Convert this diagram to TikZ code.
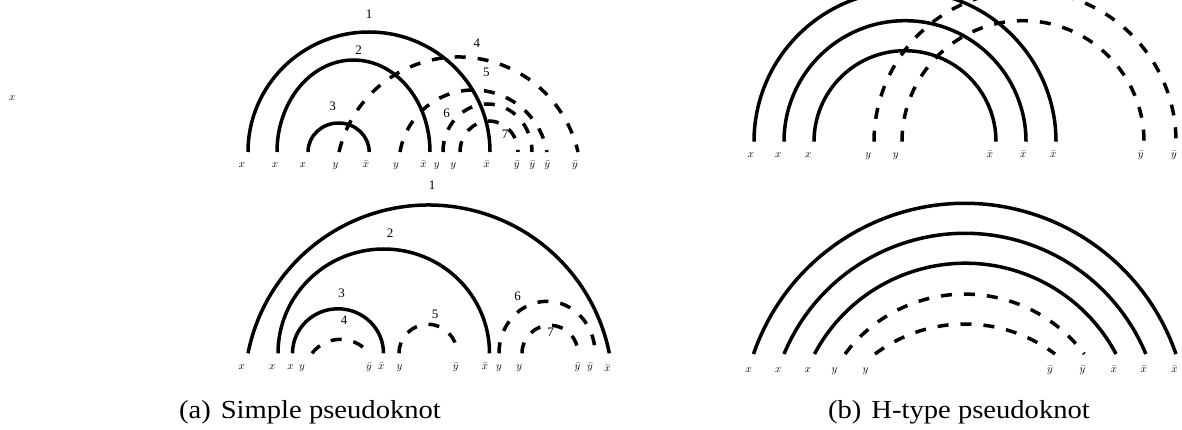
\documentclass[tikz,border=0pt]{standalone}
\usepackage{fontspec}
\newfontfamily\numfont{Liberation Serif}
\newfontfamily\capfont[FakeStretch=1.1]{Liberation Serif}
\tikzset{
  solidarc/.style={line width=3.5pt},
  dasharc/.style={line width=3.5pt, dash pattern=on 11pt off 12pt},
  lab/.style={anchor=base, inner sep=0pt, font=\fontsize{11}{13}\selectfont},
  num/.style={inner sep=0pt, font=\numfont\fontsize{13}{15}\selectfont},
  capnode/.style={anchor=base, inner sep=0pt, font=\capfont\fontsize{26}{30}\selectfont},
}
\begin{document}
\begin{tikzpicture}[x=1pt,y=1pt]
\useasboundingbox (0,0) rectangle (1182,-430);
\clip (0,0) rectangle (1182,-430);

% lone label
\node[lab] (lonex) at (12.3,-100.6) {$x$};

% ================= (a) top panel =================
\coordinate (ta1) at (248,-152);
\coordinate (ta2) at (277,-152);
\coordinate (ta3) at (308,-152);
\coordinate (ta4) at (339,-152);
\coordinate (ta5) at (400,-152);
\coordinate (ta6) at (443,-152);
\coordinate (ta7) at (460,-152);
\draw[solidarc] (ta1) arc[start angle=180,end angle=0,x radius=121pt,y radius=120pt];
\draw[solidarc] (ta2) arc[start angle=180,end angle=0,x radius=76.5pt,y radius=92pt];
\draw[solidarc] (ta3) arc[start angle=180,end angle=0,x radius=30.6pt,y radius=29pt];
\draw[dasharc] (ta4) arc[start angle=166.97,end angle=13.03,radius=122.66pt];
\draw[dasharc] (ta5) arc[start angle=170.3,end angle=9.7,radius=74.57pt];
\draw[dasharc] (ta6) arc[start angle=180,end angle=0,x radius=44.5pt,y radius=48pt];
\draw[dasharc] (ta7) arc[start angle=180,end angle=0,x radius=29pt,y radius=31pt];

\node[lab] (tl1) at (241.7,-167.5) {$x$};
\node[lab] (tl2) at (275,-167.5) {$x$};
\node[lab] (tl3) at (302.7,-167.5) {$x$};
\node[lab] (tl4) at (335.5,-167.5) {$y$};
\node[lab] (tl5) at (366,-167.5) {$\bar{x}$};
\node[lab] (tl6) at (396,-167.5) {$y$};
\node[lab] (tl7) at (423.4,-167.5) {$\bar{x}$};
\node[lab] (tl8) at (436.8,-167.5) {$y$};
\node[lab] (tl9) at (453.3,-167.5) {$y$};
\node[lab] (tl10) at (486.7,-167.5) {$\bar{x}$};
\node[lab] (tl11) at (516.7,-167.5) {$\bar{y}$};
\node[lab] (tl12) at (532.3,-167.5) {$\bar{y}$};
\node[lab] (tl13) at (547.3,-167.5) {$\bar{y}$};
\node[lab] (tl14) at (575,-167.5) {$\bar{y}$};

\node[num] (tn1) at (369,-14) {1};
\node[num] (tn2) at (358.7,-50) {2};
\node[num] (tn3) at (332.7,-106.7) {3};
\node[num] (tn4) at (476.9,-43.3) {4};
\node[num] (tn5) at (486.4,-72.7) {5};
\node[num] (tn6) at (446.7,-113.3) {6};
\node[num] (tn7) at (505,-134) {7};

% ================= (a) bottom panel =================
\coordinate (ba1) at (248,-353.3);
\coordinate (ba2) at (278,-353.3);
\coordinate (ba3) at (292.5,-353.3);
\coordinate (ba4) at (312,-353.3);
\coordinate (ba5) at (399,-353.3);
\coordinate (ba6) at (499,-353.3);
\coordinate (ba7) at (522,-353.3);
\draw[solidarc] (ba1) arc[start angle=168.76,end angle=11.24,radius=184.2pt];
\draw[solidarc] (ba2) arc[start angle=180,end angle=0,x radius=105.75pt,y radius=104.3pt];
\draw[solidarc] (ba3) arc[start angle=180,end angle=0,x radius=45.5pt,y radius=44.5pt];
\draw[dasharc] (ba4) arc[start angle=142.3,end angle=37.7,radius=36pt];
\draw[dasharc] (ba5) arc[start angle=180,end angle=0,x radius=29pt,y radius=29pt];
\draw[dasharc] (ba6) arc[start angle=180,end angle=0,x radius=48pt,y radius=52pt];
\draw[dasharc] (ba7) arc[start angle=180,end angle=0,x radius=28pt,y radius=28pt];

\node[lab] (bl1) at (241.7,-369.5) {$x$};
\node[lab] (bl2) at (272.3,-369.5) {$x$};
\node[lab] (bl3) at (290.6,-369.5) {$x$};
\node[lab] (bl4) at (302.1,-369.5) {$y$};
\node[lab] (bl5) at (369,-369.5) {$\bar{y}$};
\node[lab] (bl6) at (381.3,-369.5) {$\bar{x}$};
\node[lab] (bl7) at (399.6,-369.5) {$y$};
\node[lab] (bl8) at (455.8,-369.5) {$\bar{y}$};
\node[lab] (bl9) at (485,-369.5) {$\bar{x}$};
\node[lab] (bl10) at (499,-369.5) {$y$};
\node[lab] (bl11) at (519.3,-369.5) {$y$};
\node[lab] (bl12) at (577.4,-369.5) {$\bar{y}$};
\node[lab] (bl13) at (590,-369.5) {$\bar{y}$};
\node[lab] (bl14) at (607.4,-371.5) {$\bar{x}$};

\node[num] (bn1) at (432,-185) {1};
\node[num] (bn2) at (390,-233.3) {2};
\node[num] (bn3) at (341.7,-293.5) {3};
\node[num] (bn4) at (344,-320) {4};
\node[num] (bn5) at (435,-314.5) {5};
\node[num] (bn6) at (517.7,-296.7) {6};
\node[num] (bn7) at (550.7,-332) {7};

% ================= (b) top panel =================
\coordinate (tb1) at (754,-141.7);
\coordinate (tb2) at (784,-141.7);
\coordinate (tb3) at (814,-141.7);
\coordinate (tb4) at (874,-141.7);
\coordinate (tb5) at (902,-141.7);
\draw[solidarc] (tb1) arc[start angle=180,end angle=0,radius=151pt];
\draw[solidarc] (tb2) arc[start angle=180,end angle=0,radius=121pt];
\draw[solidarc] (tb3) arc[start angle=180,end angle=0,radius=91pt];
\draw[dasharc] (tb4) arc[start angle=180,end angle=0,radius=151pt];
\draw[dasharc] (tb5) arc[start angle=180,end angle=0,radius=121pt];

\node[lab] (tr1) at (751,-157.5) {$x$};
\node[lab] (tr2) at (778.3,-157.5) {$x$};
\node[lab] (tr3) at (808.3,-157.5) {$x$};
\node[lab] (tr4) at (868.3,-157.5) {$y$};
\node[lab] (tr5) at (895.7,-157.5) {$y$};
\node[lab] (tr6) at (990,-157.5) {$\bar{x}$};
\node[lab] (tr7) at (1023.3,-157.5) {$\bar{x}$};
\node[lab] (tr8) at (1053.3,-157.5) {$\bar{x}$};
\node[lab] (tr9) at (1140.7,-157.5) {$\bar{y}$};
\node[lab] (tr10) at (1174,-157.5) {$\bar{y}$};

% ================= (b) bottom panel =================
\coordinate (bb1) at (753.5,-354);
\coordinate (bb2) at (784,-354);
\coordinate (bb3) at (814.5,-354);
\coordinate (bb4) at (845,-354);
\coordinate (bb5) at (875,-354);
\draw[solidarc] (bb1) arc[start angle=161,end angle=19,radius=223.4pt];
\draw[solidarc] (bb2) arc[start angle=157.4,end angle=22.6,radius=196pt];
\draw[solidarc] (bb3) arc[start angle=152.1,end angle=27.9,radius=170.6pt];
\draw[dasharc] (bb4) arc[start angle=143.2,end angle=36.8,radius=149.4pt];
\draw[dasharc] (bb5) arc[start angle=126.87,end angle=53.13,radius=150pt];

\node[lab] (br1) at (748.5,-372.5) {$x$};
\node[lab] (br2) at (778.2,-372.5) {$x$};
\node[lab] (br3) at (807.9,-372.5) {$x$};
\node[lab] (br4) at (834.6,-372.5) {$y$};
\node[lab] (br5) at (865.4,-372.5) {$y$};
\node[lab] (br6) at (1049.9,-372.5) {$\bar{y}$};
\node[lab] (br7) at (1082.6,-372.5) {$\bar{y}$};
\node[lab] (br8) at (1114.1,-372.5) {$\bar{x}$};
\node[lab] (br9) at (1143.8,-372.5) {$\bar{x}$};
\node[lab] (br10) at (1174.6,-372.5) {$\bar{x}$};

% captions
\node[capnode] (capa) at (310,-418) {(a)\hspace{10pt}Simple pseudoknot};
\node[capnode] (capb) at (959,-418) {(b)\hspace{10pt}H-type pseudoknot};
\end{tikzpicture}
\end{document}
